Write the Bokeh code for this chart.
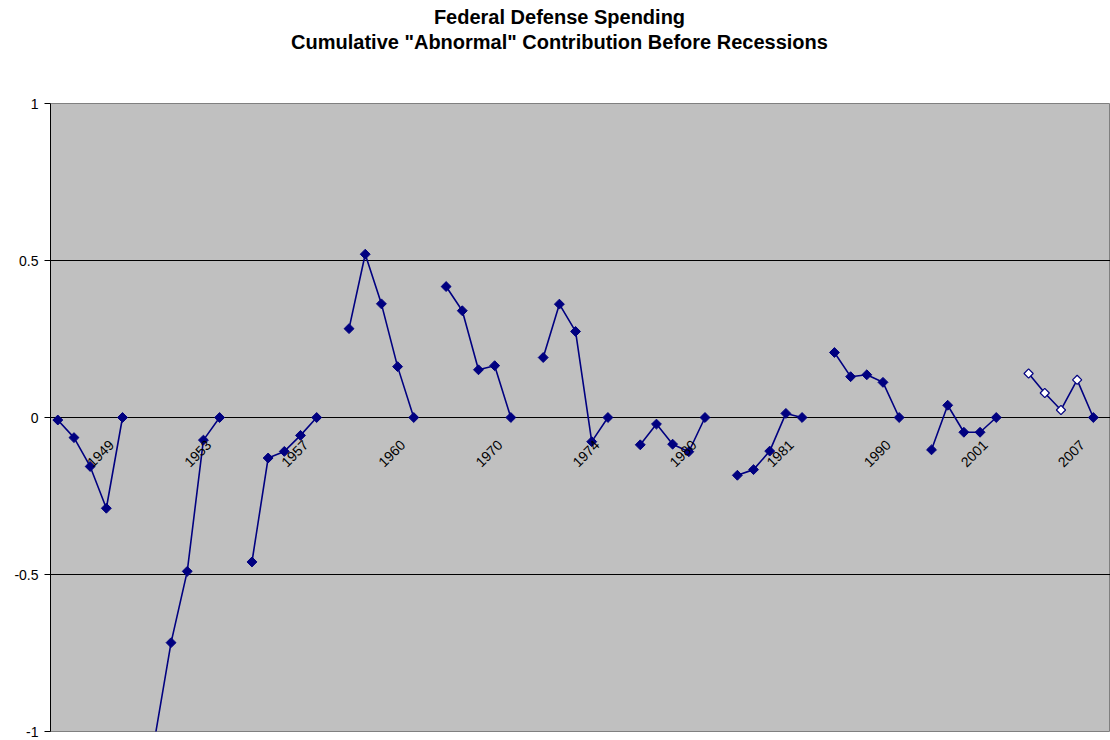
import math
import numpy as np
from bokeh.plotting import figure
from bokeh.models import (ColumnDataSource, FixedTicker, Range1d, Title,
                          LinearAxis, Label)
from bokeh.embed import file_html
from bokeh.resources import INLINE

# Recession years (one group of five observations before each)
recessions = ["1949", "1953", "1957", "1960", "1970", "1974",
              "1980", "1981", "1990", "2001", "2007"]

# Cumulative "abnormal" contribution, five points per recession
g1949 = [-0.008, -0.064, -0.156, -0.289, 0.0]
g1953 = [-1.02, -0.717, -0.49, -0.072, 0.0]
g1957 = [-0.46, -0.129, -0.108, -0.057, 0.0]
g1960 = [0.283, 0.52, 0.362, 0.162, 0.0]
g1970 = [0.417, 0.34, 0.152, 0.165, 0.0]
g1974 = [0.191, 0.361, 0.274, -0.077, 0.0]
g1980 = [-0.087, -0.021, -0.085, -0.109, 0.0]
g1981 = [-0.184, -0.166, -0.107, 0.013, 0.0]
g1990 = [0.207, 0.13, 0.136, 0.112, 0.0]
g2001 = [-0.103, 0.039, -0.047, -0.047, 0.0]
g2007 = [0.14, 0.078, 0.024, 0.12, 0.0]
groups = [g1949, g1953, g1957, g1960, g1970, g1974,
          g1980, g1981, g1990, g2001, g2007]
# which points are projections (hollow markers)
projected_2007 = [True, True, True, True, False]

y_ticks = [-1, -0.5, 0, 0.5, 1]
y_tick_labels = ["-1", "-0.5", "0", "0.5", "1"]

title_lines = ["Federal Defense Spending",
               "Cumulative \"Abnormal\" Contribution Before Recessions"]

# ---- build flat category series (gap category between groups)
xs, ys, hollow = [], [], []
label_x = []
idx = 0
for gi, g in enumerate(groups):
    for j, v in enumerate(g):
        xs.append(idx)
        ys.append(v)
        hollow.append(gi == len(groups) - 1 and projected_2007[j])
        idx += 1
    label_x.append(idx - 1)
    if gi < len(groups) - 1:
        xs.append(idx)
        ys.append(np.nan)
        hollow.append(False)
        idx += 1

xs = np.array(xs, dtype=float)
ys = np.array(ys, dtype=float)
hollow = np.array(hollow)
valid = ~np.isnan(ys)

NAVY = "#000080"
FONT = "Liberation Sans"

W, H = 1110, 740
BL, BT, BB, BR = 50, 103, 9, 0
frame_w = W - BL - BR
cat_px = 16.18
first_off = 7.3
x_start = -first_off / cat_px
x_end = x_start + frame_w / cat_px

p = figure(width=W, height=H, output_backend="svg", toolbar_location=None,
           x_range=Range1d(x_start, x_end), y_range=Range1d(-1, 1),
           x_axis_location=None, min_border_left=BL, min_border_right=BR,
           min_border_top=BT, min_border_bottom=BB, title=None)
p.border_fill_color = "white"
p.background_fill_color = "#C0C0C0"
p.outline_line_color = "#808080"
p.xgrid.visible = False
p.ygrid.ticker = FixedTicker(ticks=y_ticks)
p.ygrid.grid_line_color = "black"
p.ygrid.grid_line_width = 1

ya = p.yaxis[0]
ya.ticker = FixedTicker(ticks=y_ticks)
ya.major_label_overrides = {t: l for t, l in zip(y_ticks, y_tick_labels)}
ya.major_label_text_font = FONT
ya.major_label_text_font_size = "14px"
ya.major_label_text_color = "black"
ya.axis_line_color = "black"
ya.major_tick_line_color = "black"
ya.major_tick_out = 6
ya.major_tick_in = 0
ya.minor_tick_line_color = None
ya.major_label_standoff = 6

line_src = ColumnDataSource(dict(x=xs, y=ys))
p.line("x", "y", source=line_src, line_color=NAVY, line_width=1.6)

filled = valid & ~hollow
p.scatter(xs[filled], ys[filled], marker="square", angle=math.pi / 4, size=7,
          fill_color=NAVY, line_color=NAVY, line_width=1)
p.scatter(xs[hollow], ys[hollow], marker="square", angle=math.pi / 4, size=6.5,
          fill_color="white", line_color=NAVY, line_width=1.2)

# category labels below the zero line (rotated 45 degrees, centred)
for lx, txt in zip(label_x, recessions):
    p.add_layout(Label(x=lx, y=0, text=txt, angle=math.pi / 4,
                       text_align="center", text_baseline="middle",
                       x_offset=-22, y_offset=-36,
                       text_font=FONT, text_font_size="14px",
                       text_color="black"))

# spacer between frame and title block (blank axis drawn in border colour)
spacer_tick = x_start + 0.01
spacer = LinearAxis(ticker=FixedTicker(ticks=[spacer_tick]),
                    axis_line_color=None,
                    major_tick_line_color="white", minor_tick_line_color=None,
                    major_tick_out=50, minor_tick_out=0, major_tick_in=0,
                    major_label_standoff=0,
                    major_label_overrides={spacer_tick: ""},
                    major_label_text_color=None,
                    major_label_text_font_size="1px")
p.add_layout(spacer, "above")

# title (two lines): nearest to frame is added first
TFS = 20
title_center = 559
est_width = [12.56 * TFS, 26.84 * TFS]
for i, s in [(1, 2), (0, 0)]:
    p.add_layout(Title(text=title_lines[i], align="left",
                       offset=title_center - BL - est_width[i] / 2, standoff=s,
                       text_font=FONT, text_font_style="bold",
                       text_font_size=f"{TFS}px", text_color="black"), "above")

open("out.html", "w").write(file_html(p, INLINE))
